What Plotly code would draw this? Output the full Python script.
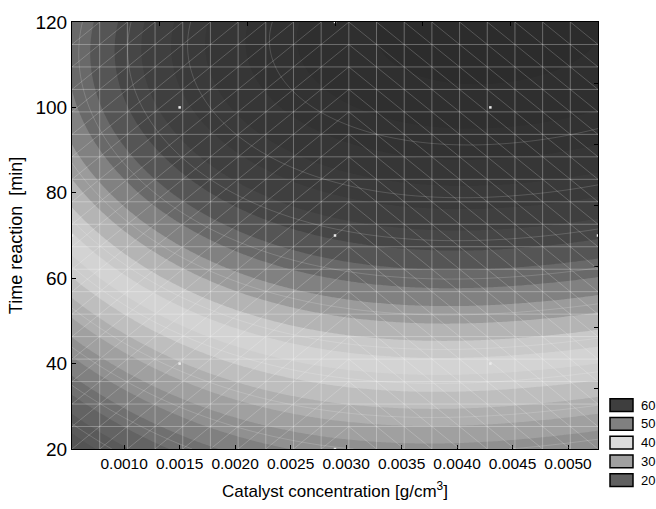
import numpy as np
import plotly.graph_objects as go

# Response read across the plane: catalyst [g/cm3], time [min], response
sample_x = [0.00053] * 10 + [0.0015] * 7 + [0.0029] * 9 + [0.0043] * 9 + [0.00527] * 8
sample_y = ([120, 100, 90, 80, 70, 60, 50, 40, 30, 20]
            + [120, 100, 80, 60, 50, 40, 20]
            + [120, 100, 80, 70, 60, 50, 40, 30, 20]
            + [120, 100, 80, 70, 60, 50, 40, 30, 20]
            + [120, 100, 80, 70, 60, 50, 40, 20])
sample_z = ([52.5, 48.5, 45.5, 42.0, 39.8, 35.5, 31.5, 26.0, 19.0, 11.0]
            + [60.0, 58.8, 52.5, 40.5, 38.5, 34.0, 20.0]
            + [68.0, 66.0, 63.0, 59.4, 51.0, 42.2, 38.0, 31.3, 26.6]
            + [72.0, 66.0, 64.0, 59.0, 49.1, 41.5, 38.7, 32.7, 27.2]
            + [70.0, 66.0, 63.0, 58.8, 48.0, 40.5, 37.5, 26.6])

# experimental runs (central composite design)
design_x = [0.0015, 0.0043, 0.0015, 0.0043, 0.00053, 0.00527, 0.0029, 0.0029, 0.0029]
design_y = [40, 40, 100, 100, 70, 70, 20, 120, 70]

legend_levels = [60, 50, 40, 30, 20]
x_ticks = [0.0010, 0.0015, 0.0020, 0.0025, 0.0030, 0.0035, 0.0040, 0.0045, 0.0050]
y_ticks = [20, 40, 60, 80, 100, 120]

# grey level of each response value
grey_z = [-10, 0, 10, 20, 30, 40, 45, 50, 55, 57.5, 60, 65, 70, 80]
grey_v = [54, 60, 72, 96, 160, 220, 182, 128, 82, 68, 62, 54, 46, 38]

x_lo, x_hi = 0.00053, 0.00527
y_lo, y_hi = 20, 120
xc, xs = 0.0029, 0.0014
yc, ys = 70, 30


def terms(u, v):
    return [np.ones_like(u), u, v, u * u, u * v, v * v,
            u ** 3, u * u * v, u * v * v, v ** 3]


# smooth third-order surface fitted by least squares
U = (np.array(sample_x) - xc) / xs
V = (np.array(sample_y) - yc) / ys
A = np.column_stack(terms(U, V))
coef, *_ = np.linalg.lstsq(A, np.array(sample_z), rcond=None)

gx = np.linspace(x_lo, x_hi, 220)
gy = np.linspace(y_lo, y_hi, 220)
GU, GV = np.meshgrid((gx - xc) / xs, (gy - yc) / ys)
Z = sum(c * t for c, t in zip(coef, terms(GU, GV)))


def grey(z):
    g = int(round(np.interp(z, grey_z, grey_v)))
    return f"rgb({g},{g},{g})"


zmin, zmax, step = -10.0, 80.0, 2.5
levels = np.arange(zmin, zmax + step, step)
colorscale = []
for lv in levels:
    t = (lv - zmin) / (zmax - zmin)
    colorscale.append([min(t, 1.0), grey(lv + step / 2)])
if colorscale[-1][0] < 1:
    colorscale.append([1.0, colorscale[-1][1]])

fig = go.Figure()
fig.add_trace(go.Contour(
    x=gx, y=gy, z=Z,
    zmin=zmin, zmax=zmax,
    autocontour=False,
    contours=dict(start=zmin, end=zmax, size=step, coloring="fill"),
    colorscale=colorscale,
    line=dict(width=0),
    showscale=False,
    hoverinfo="skip",
))
# faint iso-lines through the middle of the bands
fig.add_trace(go.Contour(
    x=gx, y=gy, z=Z,
    autocontour=False,
    contours=dict(start=zmin + step / 2, end=zmax, size=step * 2, coloring="none"),
    line=dict(width=1, color="rgba(255,255,255,0.16)"),
    showscale=False,
    hoverinfo="skip",
))

# mesh of the fitted surface (20 x 20 nodes, triangulated)
mx = np.linspace(x_lo, x_hi, 20)
my = np.linspace(y_lo, y_hi, 20)
mesh_col = "rgba(255,255,255,0.30)"
diag_col = "rgba(255,255,255,0.20)"
shapes = []
for v in mx[1:-1]:
    shapes.append(dict(type="line", x0=v, x1=v, y0=y_lo, y1=y_hi,
                       line=dict(color=mesh_col, width=1), layer="above"))
for v in my[1:-1]:
    shapes.append(dict(type="line", x0=x_lo, x1=x_hi, y0=v, y1=v,
                       line=dict(color=mesh_col, width=1), layer="above"))
for i in range(len(mx) - 1):
    for j in range(len(my) - 1):
        if mx[i] < xc:
            x0, x1, y0, y1 = mx[i], mx[i + 1], my[j], my[j + 1]
        else:
            x0, x1, y0, y1 = mx[i], mx[i + 1], my[j + 1], my[j]
        shapes.append(dict(type="line", x0=x0, x1=x1, y0=y0, y1=y1,
                           line=dict(color=diag_col, width=1), layer="above"))

fig.add_trace(go.Scatter(
    x=design_x, y=design_y, mode="markers",
    marker=dict(color="rgb(235,235,235)", size=2.5, symbol="square"),
    showlegend=False, hoverinfo="skip",
))
# empty trace carrying the top/right frame axes
fig.add_trace(go.Scatter(x=[], y=[], xaxis="x2", yaxis="y2",
                         showlegend=False, hoverinfo="skip"))

# legend boxes
plot_top, plot_bottom, plot_left, plot_w = 20, 453, 72, 526
plot_h = plot_bottom - plot_top
annotations = []
for i, lv in enumerate(legend_levels):
    top = 402 + 19 * i
    bot = top + 13
    shapes.append(dict(type="rect", xref="paper", yref="paper",
                       x0=(610 - plot_left) / plot_w, x1=(633 - plot_left) / plot_w,
                       y0=(plot_bottom - bot) / plot_h, y1=(plot_bottom - top) / plot_h,
                       fillcolor=grey(lv), line=dict(color="black", width=1.5)))
    annotations.append(dict(xref="paper", yref="paper",
                            x=(639 - plot_left) / plot_w,
                            y=(plot_bottom - (top + bot) / 2) / plot_h,
                            text=str(lv), showarrow=False, xanchor="left",
                            yanchor="middle",
                            font=dict(size=13, color="black")))

font_family = "Liberation Sans, Arial, sans-serif"
fig.update_layout(
    width=656, height=509,
    margin=dict(l=72, r=58, t=20, b=56),
    paper_bgcolor="white", plot_bgcolor="white",
    font=dict(family=font_family, color="black"),
    shapes=shapes, annotations=annotations,
    showlegend=False,
    xaxis=dict(
        domain=[0, 1], anchor="y",
        range=[x_lo, x_hi], tickvals=x_ticks,
        ticktext=[f"{v:.4f}" for v in x_ticks],
        ticks="inside", ticklen=4, tickcolor="black",
        showline=True, linecolor="black", linewidth=1, mirror=True,
        showgrid=False, zeroline=False,
        tickfont=dict(size=15.5),
        title=dict(text="Catalyst concentration [g/cm<sup>3</sup>]",
                   font=dict(size=17), standoff=14),
    ),
    yaxis=dict(
        domain=[0, 1], anchor="x",
        range=[y_lo, y_hi], tickvals=y_ticks,
        ticks="inside", ticklen=4, tickcolor="black",
        showline=True, linecolor="black", linewidth=1, mirror=True,
        showgrid=False, zeroline=False,
        tickfont=dict(size=19),
        title=dict(text="Time reaction  [min]", font=dict(size=18), standoff=8),
    ),
    xaxis2=dict(overlaying="x", anchor="y", side="top", range=[0, 6], dtick=1,
                ticks="inside", ticklen=4, tickcolor="black",
                showticklabels=False, showgrid=False, zeroline=False,
                showline=False),
    yaxis2=dict(overlaying="y", anchor="x", side="right", range=[0, 7], dtick=1,
                ticks="inside", ticklen=4, tickcolor="black",
                showticklabels=False, showgrid=False, zeroline=False,
                showline=False),
)

fig.write_html("out.html")
